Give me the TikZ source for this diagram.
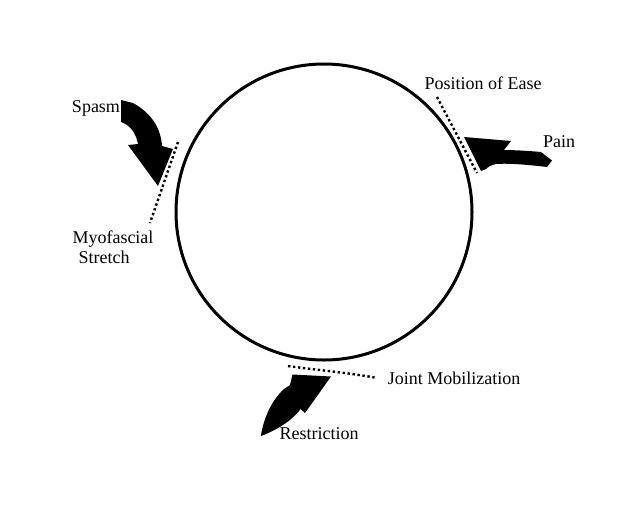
\documentclass[tikz,border=0pt]{standalone}
\usepackage{fontspec}
\setmainfont{Liberation Serif}
\begin{document}
\begin{tikzpicture}[x=1pt,y=-1pt,
  lbl/.style={font=\fontsize{18}{20}\selectfont, inner sep=0pt, anchor=base},
  dotline/.style={line width=2.4pt, dash pattern=on 2.4pt off 2.6pt},
  blockarrow/.style={fill=black, draw=none}]
\useasboundingbox[fill=white] (0,0) rectangle (640,512);

% the cycle
\node[circle, draw, line width=3pt, minimum size=296pt, inner sep=0pt] (ring) at (324,212) {};

% labels
\node[lbl] (spasm) at (96,112) {Spasm};
\node[lbl] (myo) at (113,243) {Myofascial};
\node[lbl] (stretch) at (104,263) {Stretch};
\node[lbl] (ease) at (483,89) {Position of Ease};
\node[lbl] (pain) at (559,147) {Pain};
\node[lbl] (joint) at (454,384) {Joint Mobilization};
\node[lbl] (restr) at (319,439) {Restriction};

% dotted technique lines
\coordinate (ms1) at (178,142);
\coordinate (ms2) at (150,223);
\coordinate (pe1) at (437,97);
\coordinate (pe2) at (477,173);
\coordinate (jm1) at (288,366);
\coordinate (jm2) at (377,378);
\draw[dotline] (ms1) -- (ms2);
\draw[dotline] (pe1) -- (pe2);
\draw[dotline] (jm1) .. controls (315,370) and (345,372) .. (jm2);

% Spasm arrow
\fill[blockarrow] (121,100) -- (133,103) .. controls (153,114) and (161,130) .. (162,146)
  -- (173,149) -- (158,186) -- (128,145) -- (138,144)
  .. controls (136,133) and (130,125) .. (121,122) -- cycle;

% Pain arrow
\fill[blockarrow] (464,137) -- (511,141) -- (504,150)
  .. controls (515,150) and (530,151) .. (541,152) -- (552,160.5) -- (547,167)
  .. controls (530,165) and (510,163) .. (496,164)
  .. controls (491,165) and (488,167) .. (486,169) -- (481,171) -- cycle;

% Restriction arrow
\fill[blockarrow] (261,435) .. controls (264,417) and (272,400) .. (284,389)
  -- (290,385) -- (292.5,374.5) -- (331,376.5) -- (305,413) -- (300.5,409)
  .. controls (295,417) and (282,428) .. (261,436) -- cycle;
\end{tikzpicture}
\end{document}
